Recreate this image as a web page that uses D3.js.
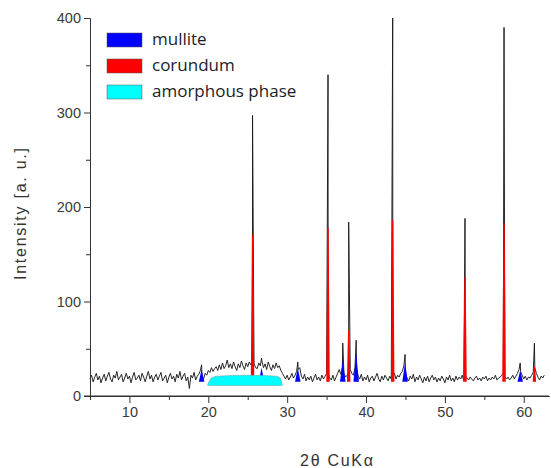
<!DOCTYPE html>
<html>
<head>
<meta charset="utf-8">
<script src="https://cdn.jsdelivr.net/npm/d3@7"></script>
<style>
  body { margin: 0; background: #fff; }
  svg { display: block; }
  .tick-label { font-family: "Liberation Sans", Arial, sans-serif; font-size: 14.5px; fill: #3a3a3a; }
  .axis-title { font-family: "Liberation Sans", Arial, sans-serif; font-size: 16px; fill: #333; }
  .legend-text { font-family: "Open Sans", sans-serif; font-size: 17px; fill: #1c1c28; }
</style>
</head>
<body>
<svg id="viz" width="551" height="468"></svg>
<script>
// raw scan, 2theta from 5.0 in 0.2 deg steps
const scanStart = 5.0;
const scanStep = 0.2;
const counts = [
  18,22,15,20,24,17,21,14,19,23,
  16,21,25,18,15,22,19,26,17,20,
  23,15,19,24,18,21,14,20,25,17,
  19,22,16,24,20,15,21,26,18,22,
  15,20,23,17,21,25,16,19,22,14,
  20,24,18,21,15,23,19,26,17,21,
  24,16,20,8,22,19,25,17,21,23,
  27,20,18,24,22,27,25,30,26,29,
  31,27,33,28,35,29,32,38,30,34,
  29,36,31,27,34,30,37,32,28,35,
  31,36,33,38,34,30,29,35,32,37,
  30,34,28,36,31,27,33,29,35,30,
  32,27,24,21,18,22,17,20,24,19,
  22,26,28,30,21,18,23,16,20,17,
  21,15,19,23,17,20,16,22,18,21,
  24,23,19,17,22,16,20,24,28,23,
  30,24,20,22,26,28,24,22,30,27,
  21,18,23,16,20,17,22,15,19,21,
  16,20,24,18,15,21,17,22,19,16,
  21,18,20,24,18,22,20,24,26,32,
  24,19,16,21,18,23,15,20,17,22,
  18,14,20,16,21,15,19,22,17,20,
  15,19,16,21,18,14,20,17,22,16,
  19,15,21,17,20,18,22,16,21,19,
  17,20,18,16,19,21,17,19,16,20,
  18,21,16,19,17,20,18,22,17,19,
  20,22,24,21,18,20,17,19,22,18,
  21,24,28,26,22,18,21,17,20,19,
  22,25,30,24,20,17,21,19,22
];
// peak maxima of the measured pattern [2theta, intensity]
const spikes = [
  [19.15,33],[25.61,297],[26.75,40],[31.35,36],[35.18,340],[37.05,56],
  [37.8,184],[38.75,59],[43.38,400],[44.95,44],[52.55,188],[57.5,390],
  [59.55,35],[61.35,56]
];
// phase contributions [2theta, peak height]
const corundum = [[25.61,170],[35.18,178],[37.8,70],[43.38,186],[52.55,126],[57.5,183],[61.35,31]];
const mullite = [[19.15,28],[26.75,30],[31.35,30],[37.05,38],[38.75,45],[44.95,35],[59.55,27]];
// amorphous hump [2theta, low, high]
const amorphous = [[19.9,11.5,11.5],[20.4,11,19],[21.2,11,21],[25,11,22],[28.6,11,21],[29.1,11,19],[29.4,11.5,11.5]];

const xTicks = [10,20,30,40,50,60];
const yTicks = [0,100,200,300,400];
const legendItems = ["mullite","corundum","amorphous phase"];
const legendColors = ["#0000ff","#ff0000","#00ffff"];

const svg = d3.select("#viz");
const x = d3.scaleLinear().domain([5,63.2]).range([90,549]);
const y = d3.scaleLinear().domain([0,400]).range([396,18]);

const trace = counts.map((c,i)=>[+(scanStart+i*scanStep).toFixed(2), c])
  .concat(spikes)
  .sort((a,b)=>a[0]-b[0]);

const line = d3.line().x(d=>x(d[0])).y(d=>y(d[1]));

svg.append("path")
  .attr("d", line(trace))
  .attr("fill","none")
  .attr("stroke","#1a1a1a")
  .attr("stroke-width",0.95)
  .attr("stroke-linejoin","round");

const base = 15;
svg.append("g").selectAll("path").data(corundum).join("path")
  .attr("d", d=>line([[d[0]-0.22,base],[d[0]-0.08,d[1]],[d[0]+0.08,d[1]],[d[0]+0.22,base]]))
  .attr("fill","#ff0000");

svg.append("g").selectAll("path").data(mullite).join("path")
  .attr("d", d=>line([[d[0]-0.35,base],[d[0],d[1]],[d[0]+0.35,base]]))
  .attr("fill","#0000ff");

const area = d3.area().x(d=>x(d[0])).y0(d=>y(d[1])).y1(d=>y(d[2])).curve(d3.curveMonotoneX);
svg.append("path")
  .attr("d", area(amorphous))
  .attr("fill","#00ffff")
  .attr("stroke","#6aa6a6")
  .attr("stroke-width",0.6);

// axes
const xAxis = d3.axisBottom(x).tickValues(xTicks).tickSize(7).tickPadding(4).tickSizeOuter(0);
const xMinor = d3.axisBottom(x).tickValues(d3.range(5,63,5).filter(v=>v%10)).tickSize(4).tickFormat("").tickSizeOuter(0);
const yAxis = d3.axisLeft(y).tickValues(yTicks).tickSize(6).tickPadding(3).tickSizeOuter(0);
const yMinor = d3.axisLeft(y).tickValues([50,150,250,350]).tickSize(4).tickFormat("").tickSizeOuter(0);

[[xAxis,"translate(0,396)"],[xMinor,"translate(0,396)"],[yAxis,"translate(90,0)"],[yMinor,"translate(90,0)"]]
  .forEach(([ax,tr])=>{
    const g = svg.append("g").attr("transform",tr).call(ax);
    g.selectAll("path,line").attr("stroke","#333").attr("stroke-width",1);
    g.selectAll("text").attr("class","tick-label").attr("font-size",null).attr("font-family",null).attr("fill",null);
  });
// extend x axis line to the left under the 0 tick
svg.append("line").attr("x1",84).attr("x2",549).attr("y1",396).attr("y2",396).attr("stroke","#333");

svg.append("text").attr("class","axis-title")
  .attr("x",300).attr("y",466)
  .attr("textLength",73).attr("lengthAdjust","spacing")
  .text("2θ CuKα");
svg.append("text").attr("class","axis-title")
  .attr("transform","translate(26,214) rotate(-90)")
  .attr("x",-66)
  .attr("textLength",132).attr("lengthAdjust","spacing")
  .text("Intensity [a. u.]");

// legend
const lg = svg.append("g").selectAll("g").data(legendItems).join("g")
  .attr("transform",(d,i)=>`translate(107,${33+i*26})`);
lg.append("rect").attr("width",35).attr("height",14)
  .attr("fill",(d,i)=>legendColors[i])
  .attr("stroke","#555").attr("stroke-width",0.5);
lg.append("text").attr("class","legend-text")
  .attr("x",45).attr("y",12).text(d=>d);
</script>
</body>
</html>
